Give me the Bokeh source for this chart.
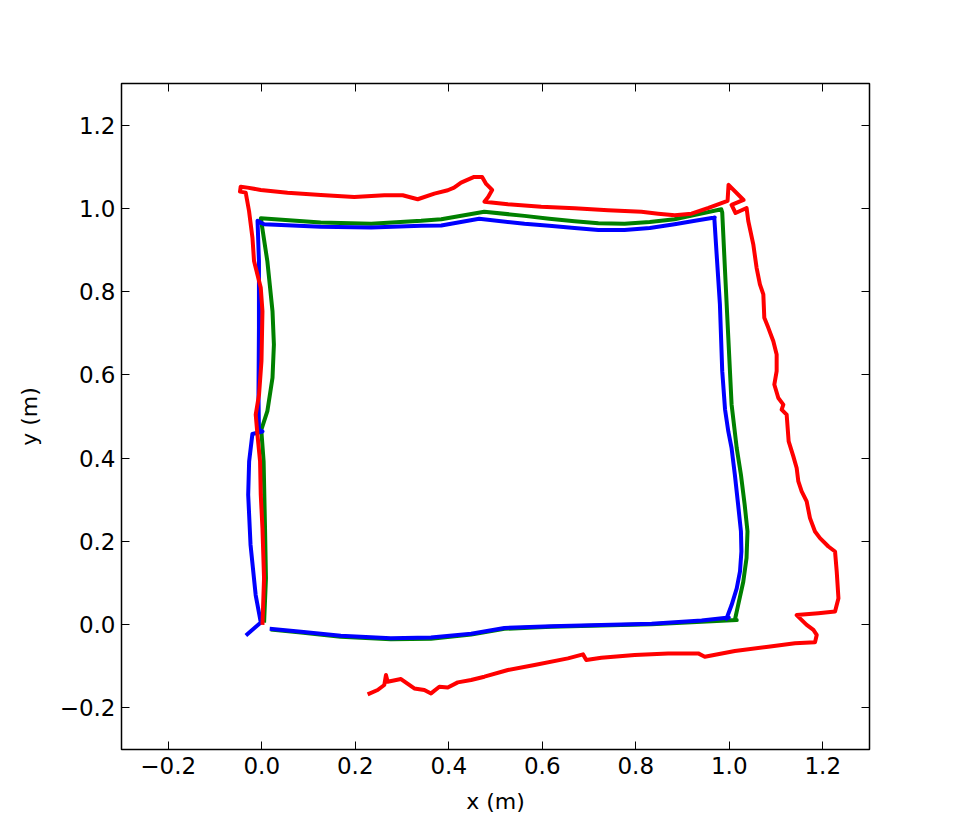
from bokeh.plotting import figure
from bokeh.models import Range1d, FixedTicker, LinearAxis, CustomLabelingPolicy
from bokeh.embed import file_html
from bokeh.resources import INLINE

# ---- data (metres) ----
blue_x = [0.017, 0.084, 0.169, 0.276, 0.362, 0.448, 0.519, 0.619, 0.726, 0.834, 0.941, 0.999,
          0.994, 1.005, 1.016, 1.023, 1.026, 1.025, 1.019, 1.012, 1.005, 0.998, 0.991, 0.985, 0.980, 0.973, 0.968,
          0.969, 0.930, 0.883, 0.830, 0.776, 0.720, 0.669, 0.615, 0.562, 0.465, 0.384, 0.341, 0.234, 0.126, 0.005, -0.009,
          -0.006, -0.006, -0.007, -0.006, 0.0015, -0.020, -0.027, -0.029, -0.024, -0.013, -0.002, -0.034]
blue_y = [-0.010, -0.017, -0.027, -0.033, -0.031, -0.022, -0.008, -0.004, -0.001, 0.002, 0.010, 0.017,
          0.014, 0.047, 0.087, 0.128, 0.176, 0.224, 0.288, 0.360, 0.424, 0.464, 0.517, 0.609, 0.770, 0.890, 0.978,
          0.978, 0.971, 0.962, 0.953, 0.948, 0.948, 0.953, 0.958, 0.963, 0.975, 0.959, 0.958, 0.954, 0.956, 0.962, 0.970,
          0.873, 0.713, 0.553, 0.469, 0.464, 0.458, 0.392, 0.312, 0.192, 0.071, 0.005, -0.026]

green_x = [0.019, 0.084, 0.169, 0.276, 0.362, 0.448, 0.519, 0.619, 0.726, 0.834, 0.941, 1.016,
           1.012, 1.019, 1.030, 1.037, 1.039, 1.033, 1.025, 1.016, 1.005, 0.998, 0.991, 0.985,
           0.983, 0.930, 0.883, 0.830, 0.776, 0.720, 0.669, 0.615, 0.562, 0.476, 0.384, 0.341, 0.234, 0.126, -0.002,
           0.012, 0.023, 0.026, 0.023, 0.012, -0.001, 0.004, 0.007, 0.009, 0.005]
green_y = [-0.012, -0.019, -0.029, -0.035, -0.034, -0.024, -0.010, -0.005, -0.002, 0.001, 0.007, 0.011,
           0.011, 0.047, 0.103, 0.160, 0.224, 0.288, 0.360, 0.424, 0.529, 0.689, 0.849, 0.990,
           0.998, 0.985, 0.974, 0.967, 0.963, 0.964, 0.969, 0.975, 0.982, 0.992, 0.974, 0.970, 0.963, 0.966, 0.976,
           0.873, 0.753, 0.673, 0.593, 0.513, 0.468, 0.392, 0.232, 0.111, 0.005]

red_x = [0.2265, 0.2479, 0.2621, 0.2657, 0.2693, 0.2978, 0.3263, 0.3478, 0.3621, 0.3799, 0.3979, 0.4193,
         0.4478, 0.4763, 0.5265, 0.5835, 0.6550, 0.6872, 0.6942, 0.7264, 0.7977, 0.8693, 0.9336, 0.9477,
         1.0120, 1.0836, 1.1406, 1.1834, 1.1871, 1.1800, 1.1656, 1.1442, 1.1907, 1.2263, 1.2336, 1.2299,
         1.2263, 1.2121, 1.1941, 1.1834, 1.1727, 1.1656, 1.1549, 1.1478, 1.1442, 1.1371, 1.1271, 1.1228,
         1.1121, 1.1157, 1.1050, 1.0964, 1.1014, 1.1014, 1.0943, 1.0836, 1.0750, 1.0729, 1.0656, 1.0585,
         1.0514, 1.0407, 1.0371, 1.0135, 1.0049, 1.0306, 0.9985, 0.9964, 0.9557, 0.9192, 0.8834, 0.8479,
         0.8121, 0.7407, 0.6692, 0.5978, 0.5265, 0.4763, 0.4843, 0.4928, 0.4800, 0.4714, 0.4543, 0.4264,
         0.4114, 0.3979, 0.3692, 0.3336, 0.3015, 0.2621, 0.1978, 0.1264, 0.0551, -0.0021, -0.0306, -0.0450,
         -0.0465, -0.0343, -0.0272, -0.0199, -0.0165, -0.0129, -0.0021, 0.0015, -0.0006, -0.0058, -0.0129,
         -0.0092, -0.0036, -0.0021, 0.0015, 0.0049, 0.0015]
red_y = [-0.1677, -0.1571, -0.1451, -0.1210, -0.1372, -0.1307, -0.1533, -0.1571, -0.1653, -0.1492, -0.1509, -0.1388,
         -0.1331, -0.1251, -0.1090, -0.0970, -0.0811, -0.0715, -0.0849, -0.0794, -0.0729, -0.0691, -0.0691, -0.0770,
         -0.0633, -0.0529, -0.0450, -0.0426, -0.0248, -0.0128, -0.0007, 0.0229, 0.0272, 0.0313, 0.0633, 0.1275,
         0.1757, 0.1877, 0.2077, 0.2238, 0.2558, 0.2960, 0.3200, 0.3441, 0.3761, 0.4042, 0.4403, 0.5046,
         0.5166, 0.5286, 0.5445, 0.5768, 0.6088, 0.6489, 0.6809, 0.7130, 0.7370, 0.7933, 0.8174, 0.8573,
         0.9136, 0.9697, 1.0010, 0.9889, 1.0082, 1.0202, 1.0563, 1.0178, 1.0010, 0.9873, 0.9834, 0.9873,
         0.9921, 0.9954, 1.0002, 1.0041, 1.0099, 1.0161, 1.0274, 1.0443, 1.0587, 1.0756, 1.0756, 1.0619,
         1.0498, 1.0435, 1.0354, 1.0219, 1.0315, 1.0315, 1.0274, 1.0322, 1.0378, 1.0443, 1.0498, 1.0522,
         1.0402, 1.0378, 0.9937, 0.9295, 0.8734, 0.8573, 0.8092, 0.7531, 0.6328, 0.5527, 0.5046,
         0.4565, 0.3922, 0.3121, 0.2317, 0.1114, -0.0007]

x_ticks = [-0.2, 0.0, 0.2, 0.4, 0.6, 0.8, 1.0, 1.2]
x_tick_labels = ["\u22120.2", "0.0", "0.2", "0.4", "0.6", "0.8", "1.0", "1.2"]
y_ticks = [-0.2, 0.0, 0.2, 0.4, 0.6, 0.8, 1.0, 1.2]
y_tick_labels = ["\u22120.2", "0.0", "0.2", "0.4", "0.6", "0.8", "1.0", "1.2"]
x_label = "x (m)"
y_label = "y (m)"

FONT = "DejaVu Sans"

p = figure(width=966, height=833, x_range=Range1d(-0.3, 1.3), y_range=Range1d(-0.3, 1.3),
           output_backend="svg", toolbar_location=None,
           min_border_left=121, min_border_right=97, min_border_top=83, min_border_bottom=84)
p.grid.visible = False
p.background_fill_color = "white"
p.border_fill_color = "white"
p.outline_line_color = "black"
p.outline_line_width = 1.5

p.line(green_x, green_y, line_color="#008000", line_width=4, line_join="round")
p.line(blue_x, blue_y, line_color="#0000ff", line_width=4, line_join="round")
p.line(red_x, red_y, line_color="#ff0000", line_width=4, line_join="round")


def style(ax, ticks, labels):
    ax.ticker = FixedTicker(ticks=ticks)
    ax.major_label_overrides = {t: l for t, l in zip(ticks, labels)}
    ax.major_tick_in = 8
    ax.major_tick_out = 0
    ax.major_tick_line_color = "black"
    ax.major_tick_line_width = 1
    ax.minor_tick_line_color = None
    ax.axis_line_color = None
    ax.major_label_text_font = FONT
    ax.major_label_text_font_size = "23px"
    ax.major_label_text_color = "black"
    ax.axis_label_text_font = FONT
    ax.axis_label_text_font_size = "22px"
    ax.axis_label_text_font_style = "normal"
    ax.axis_label_text_color = "black"


xa = p.xaxis[0]
ya = p.yaxis[0]
style(xa, x_ticks, x_tick_labels)
style(ya, y_ticks, y_tick_labels)
xa.axis_label = x_label
ya.axis_label = y_label
xa.major_label_standoff = 7
ya.major_label_standoff = 6
xa.axis_label_standoff = 12
ya.axis_label_standoff = 15

HIDE_JS = """
const all = Array.from(indices);
for (const i of all) { indices.unset(i); }
return indices;
"""

top = LinearAxis()
right = LinearAxis()
style(top, x_ticks, x_tick_labels)
style(right, y_ticks, y_tick_labels)
top.major_label_policy = CustomLabelingPolicy(code=HIDE_JS)
right.major_label_policy = CustomLabelingPolicy(code=HIDE_JS)
top.major_label_standoff = 0
right.major_label_standoff = 0
p.add_layout(top, "above")
p.add_layout(right, "right")

open("out.html", "w").write(file_html(p, INLINE))
